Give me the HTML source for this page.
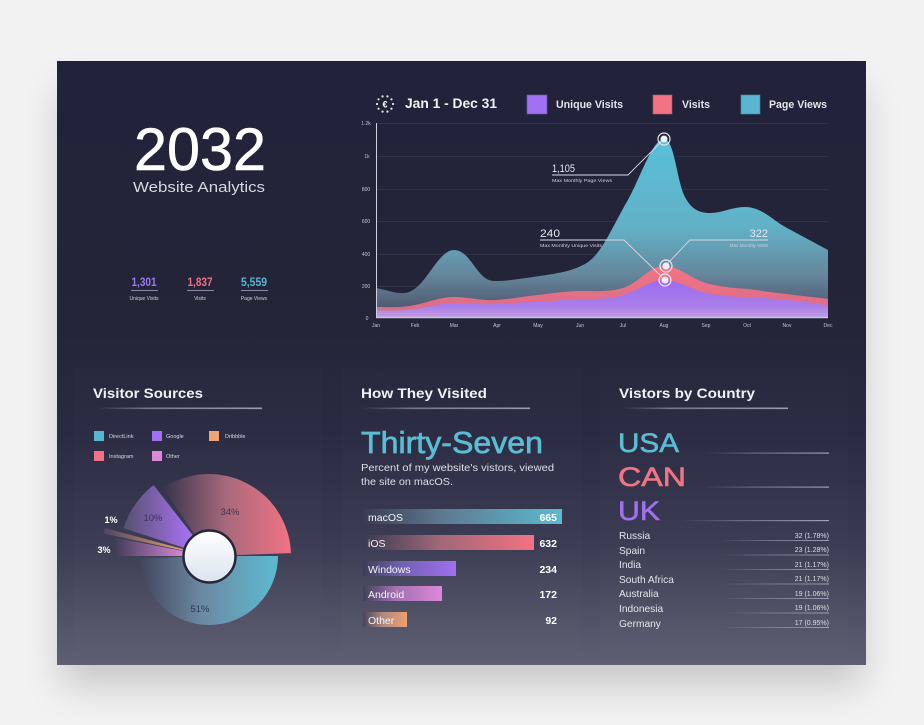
<!DOCTYPE html>
<html>
<head>
<meta charset="utf-8">
<style>
  html,body{margin:0;padding:0;}
  body{width:924px;height:725px;background:#f2f2f3;position:relative;overflow:hidden;font-family:"Liberation Sans",sans-serif;}
  .card{position:absolute;left:57px;top:61px;width:809px;height:604px;box-shadow:0 24px 36px -4px rgba(0,0,0,0.18);
    background:linear-gradient(to bottom,#22223a 0%,#242539 45%,#2a2b42 62%,#3a3b52 80%,#5f5f74 100%);}
  svg{position:absolute;left:0;top:0;}
  text{font-family:"Liberation Sans",sans-serif;}
</style>
</head>
<body>
<div class="card"></div>
<svg width="924" height="725" viewBox="0 0 924 725" xmlns="http://www.w3.org/2000/svg">
  <defs>
    <linearGradient id="gTeal" x1="0" y1="139" x2="0" y2="318" gradientUnits="userSpaceOnUse">
      <stop offset="0" stop-color="#58c0d8"/>
      <stop offset="0.5" stop-color="#62b0c6"/>
      <stop offset="0.75" stop-color="#66889e"/>
      <stop offset="1" stop-color="#4a4c64"/>
    </linearGradient>
    <linearGradient id="gPink" x1="0" y1="266" x2="0" y2="318" gradientUnits="userSpaceOnUse">
      <stop offset="0" stop-color="#f27484"/>
      <stop offset="1" stop-color="#d86c86"/>
    </linearGradient>
    <linearGradient id="gPurp" x1="0" y1="280" x2="0" y2="318" gradientUnits="userSpaceOnUse">
      <stop offset="0" stop-color="#9c6cf0"/>
      <stop offset="0.7" stop-color="#a97ee8"/>
      <stop offset="1" stop-color="#c2a0e2"/>
    </linearGradient>
    <linearGradient id="gLine" x1="0" y1="0" x2="1" y2="0">
      <stop offset="0" stop-color="#8a8aa2" stop-opacity="0"/>
      <stop offset="0.3" stop-color="#8a8aa2" stop-opacity="0.8"/>
      <stop offset="1" stop-color="#9a9ab0"/>
    </linearGradient>
    <linearGradient id="gLineR" x1="0" y1="0" x2="1" y2="0">
      <stop offset="0" stop-color="#8a8aa2" stop-opacity="0"/>
      <stop offset="0.4" stop-color="#8a8aa2" stop-opacity="0.6"/>
      <stop offset="1" stop-color="#a0a0b8"/>
    </linearGradient>
    <linearGradient id="pTeal" x1="140" y1="0" x2="278" y2="0" gradientUnits="userSpaceOnUse">
      <stop offset="0" stop-color="#42445c"/>
      <stop offset="0.45" stop-color="#6c8aa2"/>
      <stop offset="1" stop-color="#5cbad1"/>
    </linearGradient>
    <linearGradient id="pPink" x1="163" y1="0" x2="291" y2="0" gradientUnits="userSpaceOnUse">
      <stop offset="0" stop-color="#36344c"/>
      <stop offset="0.5" stop-color="#a86a7c"/>
      <stop offset="1" stop-color="#f27282"/>
    </linearGradient>
    <linearGradient id="pPurp" x1="123" y1="0" x2="190" y2="0" gradientUnits="userSpaceOnUse">
      <stop offset="0" stop-color="#55506e"/>
      <stop offset="1" stop-color="#a672f0"/>
    </linearGradient>
    <linearGradient id="pOrg" x1="103" y1="0" x2="185" y2="0" gradientUnits="userSpaceOnUse">
      <stop offset="0" stop-color="#4a4660"/>
      <stop offset="1" stop-color="#f0a070"/>
    </linearGradient>
    <linearGradient id="pViol" x1="113" y1="0" x2="185" y2="0" gradientUnits="userSpaceOnUse">
      <stop offset="0" stop-color="#3e3b55"/>
      <stop offset="1" stop-color="#d88ad8"/>
    </linearGradient>
    <linearGradient id="pWhite" x1="0" y1="530" x2="0" y2="583" gradientUnits="userSpaceOnUse">
      <stop offset="0" stop-color="#ffffff"/>
      <stop offset="1" stop-color="#dbe3ee"/>
    </linearGradient>
    <linearGradient id="bTeal" x1="363" y1="0" x2="562" y2="0" gradientUnits="userSpaceOnUse">
      <stop offset="0" stop-color="#3a3b52"/>
      <stop offset="0.4" stop-color="#5e7a90"/>
      <stop offset="1" stop-color="#5cbad0"/>
    </linearGradient>
    <linearGradient id="bPink" x1="363" y1="0" x2="534" y2="0" gradientUnits="userSpaceOnUse">
      <stop offset="0" stop-color="#3a3a52"/>
      <stop offset="0.45" stop-color="#a06878"/>
      <stop offset="1" stop-color="#f27282"/>
    </linearGradient>
    <linearGradient id="bPurp" x1="363" y1="0" x2="456" y2="0" gradientUnits="userSpaceOnUse">
      <stop offset="0" stop-color="#3e3e58"/>
      <stop offset="0.4" stop-color="#7060b0"/>
      <stop offset="1" stop-color="#a070f0"/>
    </linearGradient>
    <linearGradient id="bViol" x1="363" y1="0" x2="442" y2="0" gradientUnits="userSpaceOnUse">
      <stop offset="0" stop-color="#42405a"/>
      <stop offset="0.4" stop-color="#a070b0"/>
      <stop offset="1" stop-color="#dc88d8"/>
    </linearGradient>
    <linearGradient id="bOrg" x1="363" y1="0" x2="407" y2="0" gradientUnits="userSpaceOnUse">
      <stop offset="0" stop-color="#46445c"/>
      <stop offset="0.45" stop-color="#b08a80"/>
      <stop offset="1" stop-color="#eca070"/>
    </linearGradient>
  </defs>

  <!-- subtle panels -->
  <rect x="74" y="368" width="247" height="284" fill="#ffffff" fill-opacity="0.012"/>
  <rect x="342" y="368" width="239" height="284" fill="#ffffff" fill-opacity="0.012"/>
  <rect x="600" y="368" width="248" height="284" fill="#ffffff" fill-opacity="0.012"/>

  <!-- Title -->
  <text x="200" y="170" fill="#ffffff" stroke="#ffffff" stroke-width="0.6" font-size="60" text-anchor="middle" textLength="132" lengthAdjust="spacingAndGlyphs">2032</text>
  <text x="199" y="192" fill="#d8d8e2" font-size="14.5" text-anchor="middle" textLength="132" lengthAdjust="spacingAndGlyphs">Website Analytics</text>

  <!-- stats -->
  <text x="144" y="286" fill="#9b78ee" font-size="11.5" font-weight="bold" text-anchor="middle" textLength="25" lengthAdjust="spacingAndGlyphs">1,301</text>
  <line x1="131" y1="290.5" x2="158" y2="290.5" stroke="#8a8aa8" stroke-width="1"/>
  <text x="144" y="300" fill="#d0d0dc" font-size="5" text-anchor="middle">Unique Visits</text>
  <text x="200" y="286" fill="#ee7286" font-size="11.5" font-weight="bold" text-anchor="middle" textLength="25" lengthAdjust="spacingAndGlyphs">1,837</text>
  <line x1="187" y1="290.5" x2="214" y2="290.5" stroke="#8a8aa8" stroke-width="1"/>
  <text x="200" y="300" fill="#d0d0dc" font-size="5" text-anchor="middle">Visits</text>
  <text x="254" y="286" fill="#5ab6d0" font-size="11.5" font-weight="bold" text-anchor="middle" textLength="26" lengthAdjust="spacingAndGlyphs">5,559</text>
  <line x1="241" y1="290.5" x2="268" y2="290.5" stroke="#8a8aa8" stroke-width="1"/>
  <text x="254" y="300" fill="#d0d0dc" font-size="5" text-anchor="middle">Page Views</text>

  <!-- chart header -->
  <g fill="#e6e6ee">
    <circle cx="393" cy="104" r="1.1"/><circle cx="391.47" cy="108.7" r="1.1"/><circle cx="387.47" cy="111.61" r="1.1"/>
    <circle cx="382.53" cy="111.61" r="1.1"/><circle cx="378.53" cy="108.7" r="1.1"/><circle cx="377" cy="104" r="1.1"/>
    <circle cx="378.53" cy="99.3" r="1.1"/><circle cx="382.53" cy="96.39" r="1.1"/><circle cx="387.47" cy="96.39" r="1.1"/>
    <circle cx="391.47" cy="99.3" r="1.1"/>
  </g>
  <text x="385" y="107.5" fill="#ffffff" font-size="9" font-weight="bold" text-anchor="middle">€</text>
  <text x="405" y="108" fill="#f2f2f6" font-size="14" font-weight="bold" textLength="92" lengthAdjust="spacingAndGlyphs">Jan 1 - Dec 31</text>

  <rect x="527" y="95" width="20" height="19" fill="#9f70f2" stroke="#6c50b0" stroke-width="0.6"/>
  <text x="556" y="108" fill="#e4e4ee" font-size="11" font-weight="bold" textLength="67" lengthAdjust="spacingAndGlyphs">Unique Visits</text>
  <rect x="653" y="95" width="19" height="19" fill="#f27484" stroke="#b05868" stroke-width="0.6"/>
  <text x="682" y="108" fill="#e4e4ee" font-size="11" font-weight="bold" textLength="28" lengthAdjust="spacingAndGlyphs">Visits</text>
  <rect x="741" y="95" width="19" height="19" fill="#5ab6cf" stroke="#3e8ea4" stroke-width="0.6"/>
  <text x="769" y="108" fill="#e4e4ee" font-size="11" font-weight="bold" textLength="58" lengthAdjust="spacingAndGlyphs">Page Views</text>

  <!-- grid -->
  <g stroke="#ffffff" stroke-opacity="0.07" stroke-width="1">
    <line x1="376" y1="123.5" x2="828" y2="123.5"/>
    <line x1="376" y1="156.5" x2="828" y2="156.5"/>
    <line x1="376" y1="189.5" x2="828" y2="189.5"/>
    <line x1="376" y1="221.5" x2="828" y2="221.5"/>
    <line x1="376" y1="254.5" x2="828" y2="254.5"/>
    <line x1="376" y1="286.5" x2="828" y2="286.5"/>
  </g>
  <g fill="#c4c4d2" font-size="5" text-anchor="middle">
    <text x="366" y="125">1.2k</text>
    <text x="367" y="158">1k</text>
    <text x="366" y="191">800</text>
    <text x="366" y="223">600</text>
    <text x="366" y="256">400</text>
    <text x="366" y="288">200</text>
    <text x="367" y="320">0</text>
  </g>

  <!-- areas -->
  <path d="M376,288 C388,290 395,294 405,293 C425,291 437,250 454,250 C471,250 477,281 494,281 C510,281 525,278 540,276 C560,273 572,271 585,264 C600,256 610,232 625,205 C640,180 652,139 664,139 C674,139 676,175 684,195 C690,208 698,213 710,213 C722,213 732,207 745,207 C762,207 772,220 787,228 C800,235 815,243 828,250 L828,318 L376,318 Z" fill="url(#gTeal)"/>
  <path d="M376,307 C390,307 400,308 415,305 C430,302 440,297 454,297 C470,297 480,301 497,300 C512,299 525,296 538,295 C555,293 568,291 580,291 C595,291 610,292 623,288 C640,282 650,266 664,266 C678,266 690,278 706,283 C720,287 735,288 747,289 C765,291 775,293 787,294 C800,296 815,297 828,299 L828,318 L376,318 Z" fill="url(#gPink)"/>
  <path d="M376,310 C390,311 400,311 415,309 C430,307 440,303 454,303 C470,303 482,305 497,304 C512,303 525,302 538,302 C555,301 568,299 580,299 C595,299 610,299 623,295 C640,290 650,280 664,280 C678,280 692,290 706,293 C720,296 735,297 747,297 C765,298 775,299 787,300 C800,301 815,303 828,306 L828,318 L376,318 Z" fill="url(#gPurp)"/>

  <!-- axes -->
  <line x1="376.5" y1="123" x2="376.5" y2="318" stroke="#d0d0de" stroke-width="1"/>
  <line x1="376" y1="317.5" x2="828" y2="317.5" stroke="#c8c8da" stroke-width="1.5"/>

  <g fill="#c4c4d2" font-size="5" text-anchor="middle">
    <text x="376" y="327">Jan</text><text x="415" y="327">Feb</text><text x="454" y="327">Mar</text>
    <text x="497" y="327">Apr</text><text x="538" y="327">May</text><text x="580" y="327">Jun</text>
    <text x="623" y="327">Jul</text><text x="664" y="327">Aug</text><text x="706" y="327">Sep</text>
    <text x="747" y="327">Oct</text><text x="787" y="327">Nov</text><text x="828" y="327">Dec</text>
  </g>

  <!-- annotations -->
  <g stroke="#d8d8e4" stroke-width="0.9" fill="none">
    <polyline points="552,175 628,175 661,142"/>
    <polyline points="540,240 624,240 662,277"/>
    <polyline points="768,240 690,240 668,263"/>
  </g>
  <g>
    <circle cx="664" cy="139" r="6" fill="none" stroke="#e8e8f0" stroke-width="1.2"/>
    <circle cx="664" cy="139" r="3.5" fill="#f2f2f6"/>
    <circle cx="666" cy="266" r="6" fill="none" stroke="#f0e8ee" stroke-width="1.2"/>
    <circle cx="666" cy="266" r="3.5" fill="#f2eef2"/>
    <circle cx="665" cy="280" r="6" fill="none" stroke="#f0e8f4" stroke-width="1.2"/>
    <circle cx="665" cy="280" r="3.5" fill="#f0ecf6"/>
  </g>
  <text x="552" y="172" fill="#e8e8f0" font-size="11" textLength="23" lengthAdjust="spacingAndGlyphs">1,105</text>
  <text x="552" y="182" fill="#d0d0dc" font-size="4.6" textLength="60" lengthAdjust="spacingAndGlyphs">Max Monthly Page Views</text>
  <text x="540" y="237" fill="#e8e8f0" font-size="11" textLength="20" lengthAdjust="spacingAndGlyphs">240</text>
  <text x="540" y="247" fill="#d0d0dc" font-size="4.6" textLength="62" lengthAdjust="spacingAndGlyphs">Max Monthly Unique Visits</text>
  <text x="768" y="237" fill="#e8e8f0" font-size="11" text-anchor="end">322</text>
  <text x="768" y="247" fill="#d0d0dc" font-size="4.6" text-anchor="end">Max Monthly Visits</text>

  <!-- Visitor Sources -->
  <text x="93" y="398" fill="#f0f0f5" font-size="14" font-weight="bold" textLength="110" lengthAdjust="spacingAndGlyphs">Visitor Sources</text>
  <rect x="97" y="407.5" width="165" height="1.6" fill="url(#gLine)"/>
  <rect x="94" y="431" width="10" height="10" fill="#5ab6cf"/>
  <text x="109" y="438" fill="#d8d8e2" font-size="5.5">DirectLink</text>
  <rect x="152" y="431" width="10" height="10" fill="#a070f0"/>
  <text x="166" y="438" fill="#d8d8e2" font-size="5.5">Google</text>
  <rect x="209" y="431" width="10" height="10" fill="#eca676"/>
  <text x="225" y="438" fill="#d8d8e2" font-size="5.5">Dribbble</text>
  <rect x="94" y="451" width="10" height="10" fill="#f27484"/>
  <text x="109" y="458" fill="#d8d8e2" font-size="5.5">Instagram</text>
  <rect x="152" y="451" width="10" height="10" fill="#dc88d8"/>
  <text x="166" y="458" fill="#d8d8e2" font-size="5.5">Other</text>

  <!-- pie -->
  <g>
    <path d="M209,556 L278,556 A69,69 0 0 1 140.04,558.4 Z" fill="url(#pTeal)"/>
    <path d="M209,556 L163.15,488.02 A82,82 0 0 1 290.95,553.14 Z" fill="url(#pPink)"/>
    <path d="M209,556 L123.4,528.19 A90,90 0 0 1 153.59,485.08 Z" fill="url(#pPurp)"/>
    <path d="M209,556 L103.36,533.55 A108,108 0 0 1 104.68,528.05 Z" fill="url(#pOrg)"/>
    <path d="M209,556 L113,556 A96,96 0 0 1 114.76,537.68 Z" fill="url(#pViol)"/>
  </g>
  <circle cx="209.5" cy="556.5" r="26" fill="url(#pWhite)" stroke="#26263a" stroke-width="2.5"/>
  <text x="230" y="515" fill="#3c3650" font-size="9.5" text-anchor="middle">34%</text>
  <text x="153" y="521" fill="#3c3650" font-size="9.5" text-anchor="middle">10%</text>
  <text x="200" y="612" fill="#2e3a50" font-size="9.5" text-anchor="middle">51%</text>
  <text x="111" y="523" fill="#ffffff" font-size="9" font-weight="bold" text-anchor="middle">1%</text>
  <text x="104" y="553" fill="#ffffff" font-size="9" font-weight="bold" text-anchor="middle">3%</text>

  <!-- How They Visited -->
  <text x="361" y="398" fill="#f0f0f5" font-size="14" font-weight="bold" textLength="126" lengthAdjust="spacingAndGlyphs">How They Visited</text>
  <rect x="362" y="407.5" width="168" height="1.6" fill="url(#gLine)"/>
  <text x="361" y="453" fill="#5bbcd4" stroke="#5bbcd4" stroke-width="0.7" font-size="31" textLength="182" lengthAdjust="spacingAndGlyphs">Thirty-Seven</text>
  <text x="361" y="471" fill="#dedee8" font-size="10" textLength="193" lengthAdjust="spacingAndGlyphs">Percent of my website's vistors, viewed</text>
  <text x="361" y="485" fill="#dedee8" font-size="10" textLength="92" lengthAdjust="spacingAndGlyphs">the site on macOS.</text>

  <rect x="363" y="509" width="199" height="15" fill="url(#bTeal)"/>
  <text x="368" y="521" fill="#f4f4f8" font-size="10.5">macOS</text>
  <text x="557" y="521" fill="#ffffff" font-size="10.5" font-weight="bold" text-anchor="end">665</text>
  <rect x="363" y="535" width="171" height="15" fill="url(#bPink)"/>
  <text x="368" y="547" fill="#f4f4f8" font-size="10.5">iOS</text>
  <text x="557" y="547" fill="#ffffff" font-size="10.5" font-weight="bold" text-anchor="end">632</text>
  <rect x="363" y="561" width="93" height="15" fill="url(#bPurp)"/>
  <text x="368" y="573" fill="#f4f4f8" font-size="10.5">Windows</text>
  <text x="557" y="573" fill="#ffffff" font-size="10.5" font-weight="bold" text-anchor="end">234</text>
  <rect x="363" y="586" width="79" height="15" fill="url(#bViol)"/>
  <text x="368" y="598" fill="#f4f4f8" font-size="10.5">Android</text>
  <text x="557" y="598" fill="#ffffff" font-size="10.5" font-weight="bold" text-anchor="end">172</text>
  <rect x="363" y="612" width="44" height="15" fill="url(#bOrg)"/>
  <text x="368" y="624" fill="#f4f4f8" font-size="10.5">Other</text>
  <text x="557" y="624" fill="#ffffff" font-size="10.5" font-weight="bold" text-anchor="end">92</text>

  <!-- Visitors by Country -->
  <text x="619" y="398" fill="#f0f0f5" font-size="14" font-weight="bold" textLength="136" lengthAdjust="spacingAndGlyphs">Vistors by Country</text>
  <rect x="622" y="407.5" width="166" height="1.6" fill="url(#gLine)"/>
  <text x="618" y="452" fill="#5bbcd4" stroke="#5bbcd4" stroke-width="0.6" font-size="27" textLength="61" lengthAdjust="spacingAndGlyphs">USA</text>
  <rect x="703" y="452.5" width="126" height="1.2" fill="url(#gLineR)"/>
  <text x="618" y="486" fill="#f27484" stroke="#f27484" stroke-width="0.6" font-size="27" textLength="68" lengthAdjust="spacingAndGlyphs">CAN</text>
  <rect x="703" y="486.5" width="126" height="1.2" fill="url(#gLineR)"/>
  <text x="618" y="520" fill="#a070f0" stroke="#a070f0" stroke-width="0.6" font-size="27" textLength="42" lengthAdjust="spacingAndGlyphs">UK</text>
  <rect x="680" y="520" width="149" height="1.2" fill="url(#gLineR)"/>

  <g fill="#e4e4ec" font-size="10.2">
    <text x="619" y="539">Russia</text>
    <text x="619" y="554">Spain</text>
    <text x="619" y="568">India</text>
    <text x="619" y="583">South Africa</text>
    <text x="619" y="597">Australia</text>
    <text x="619" y="612">Indonesia</text>
    <text x="619" y="627">Germany</text>
  </g>
  <g fill="#dcdce6" font-size="7" text-anchor="end">
    <text x="829" y="538">32 (1.78%)</text>
    <text x="829" y="552">23 (1.28%)</text>
    <text x="829" y="567">21 (1.17%)</text>
    <text x="829" y="581">21 (1.17%)</text>
    <text x="829" y="596">19 (1.06%)</text>
    <text x="829" y="610">19 (1.06%)</text>
    <text x="829" y="625">17 (0.95%)</text>
  </g>
  <g>
    <rect x="720" y="540" width="109" height="1" fill="url(#gLineR)"/>
    <rect x="720" y="554.5" width="109" height="1" fill="url(#gLineR)"/>
    <rect x="720" y="569" width="109" height="1" fill="url(#gLineR)"/>
    <rect x="720" y="583.5" width="109" height="1" fill="url(#gLineR)"/>
    <rect x="720" y="598" width="109" height="1" fill="url(#gLineR)"/>
    <rect x="720" y="612.5" width="109" height="1" fill="url(#gLineR)"/>
    <rect x="720" y="627" width="109" height="1" fill="url(#gLineR)"/>
  </g>
</svg>
</body>
</html>
